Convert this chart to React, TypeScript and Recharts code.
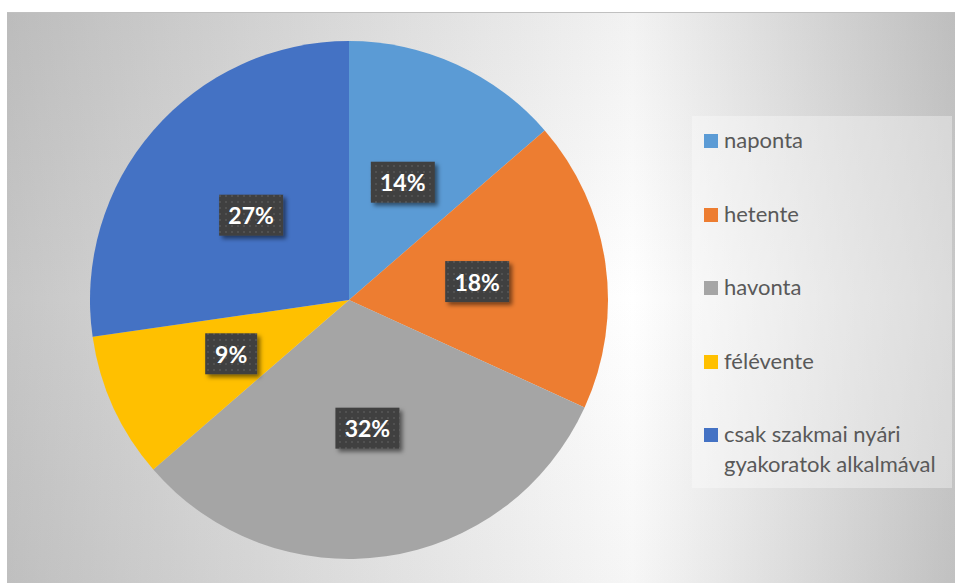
import React from 'react';
import { PieChart, Pie, Cell, Legend } from 'recharts';

const categories = ['naponta', 'hetente', 'havonta', 'félévente', 'csak szakmai nyári gyakoratok alkalmával'];
const values = [3, 4, 7, 2, 6];
const colors = ['#5B9BD5', '#ED7D31', '#A5A5A5', '#FFC000', '#4472C4'];

const data = categories.map((name, i) => ({ name, value: values[i] }));

const RADIAN = Math.PI / 180;

const renderLabel = (props: any) => {
  const { cx, cy, midAngle, outerRadius, percent } = props;
  const r = outerRadius * 0.5;
  const x = cx + r * Math.cos(-midAngle * RADIAN);
  const y = cy + r * Math.sin(-midAngle * RADIAN);
  const text = `${Math.round(percent * 100)}%`;
  const w = text.length === 2 ? 52 : 64;
  const h = 41;
  return (
    <g>
      <rect x={x - w / 2} y={y - h / 2} width={w} height={h} fill="url(#dotPat)" filter="url(#lblShadow)" />
      <text
        x={x}
        y={y}
        textAnchor="middle"
        dominantBaseline="central"
        fill="#ffffff"
        fontFamily="Lato, 'Open Sans', sans-serif"
        fontWeight={700}
        fontSize={23}
      >
        {text}
      </text>
    </g>
  );
};

const renderLegend = () => (
  <div
    style={{
      width: 260,
      height: 372,
      background: 'rgba(255,255,255,0.35)',
      fontFamily: "Lato, 'Open Sans', sans-serif",
      fontSize: 22,
      color: '#595959',
      boxSizing: 'border-box',
      paddingTop: 9,
      paddingLeft: 12,
    }}
  >
    {categories.map((c, i) => (
      <div key={c} style={{ display: 'flex', alignItems: 'flex-start', height: 73.5 }}>
        <div style={{ width: 14, height: 14, background: colors[i], marginTop: 9, marginRight: 6, flexShrink: 0 }} />
        <div style={{ lineHeight: '30px', width: 230, whiteSpace: 'nowrap' }}>
          {i === 4 ? (
            <>
              csak szakmai nyári
              <br />
              gyakoratok alkalmával
            </>
          ) : (
            c
          )}
        </div>
      </div>
    ))}
  </div>
);

export default function App() {
  return (
    <div
      style={{
        position: 'absolute',
        left: 7,
        top: 12,
        width: 948,
        height: 571,
        borderTop: '1px solid #c0c0c0',
        boxSizing: 'border-box',
        backgroundImage:
          'linear-gradient(to right, #c6c6c6 0%, #ffffff 66%, #c8c8c8 100%), linear-gradient(to bottom, #f2f2f2 0%, #ffffff 50%, #f6f6f6 100%)',
        backgroundBlendMode: 'multiply',
      }}
    >
      <PieChart width={948} height={570} margin={{ top: 0, right: 0, bottom: 0, left: 0 }}>
        <defs>
          <pattern id="dotPat" width="6" height="6" patternUnits="userSpaceOnUse">
            <rect width="6" height="6" fill="#3f3f3f" />
            <circle cx="3" cy="3" r="1" fill="#575757" />
          </pattern>
          <filter id="lblShadow" x="-30%" y="-30%" width="160%" height="160%">
            <feDropShadow dx="3" dy="3" stdDeviation="2" floodColor="#000" floodOpacity="0.5" />
          </filter>
        </defs>
        <Pie
          data={data}
          dataKey="value"
          nameKey="name"
          cx={342}
          cy={287}
          outerRadius={259}
          startAngle={90}
          endAngle={-270}
          stroke="none"
          label={renderLabel}
          labelLine={false}
          isAnimationActive={false}
        >
          {data.map((d, i) => (
            <Cell key={d.name} fill={colors[i]} />
          ))}
        </Pie>
        <Legend
          content={renderLegend}
          wrapperStyle={{ position: 'absolute', left: 685, top: 103, width: 260, height: 372 }}
        />
      </PieChart>
    </div>
  );
}
